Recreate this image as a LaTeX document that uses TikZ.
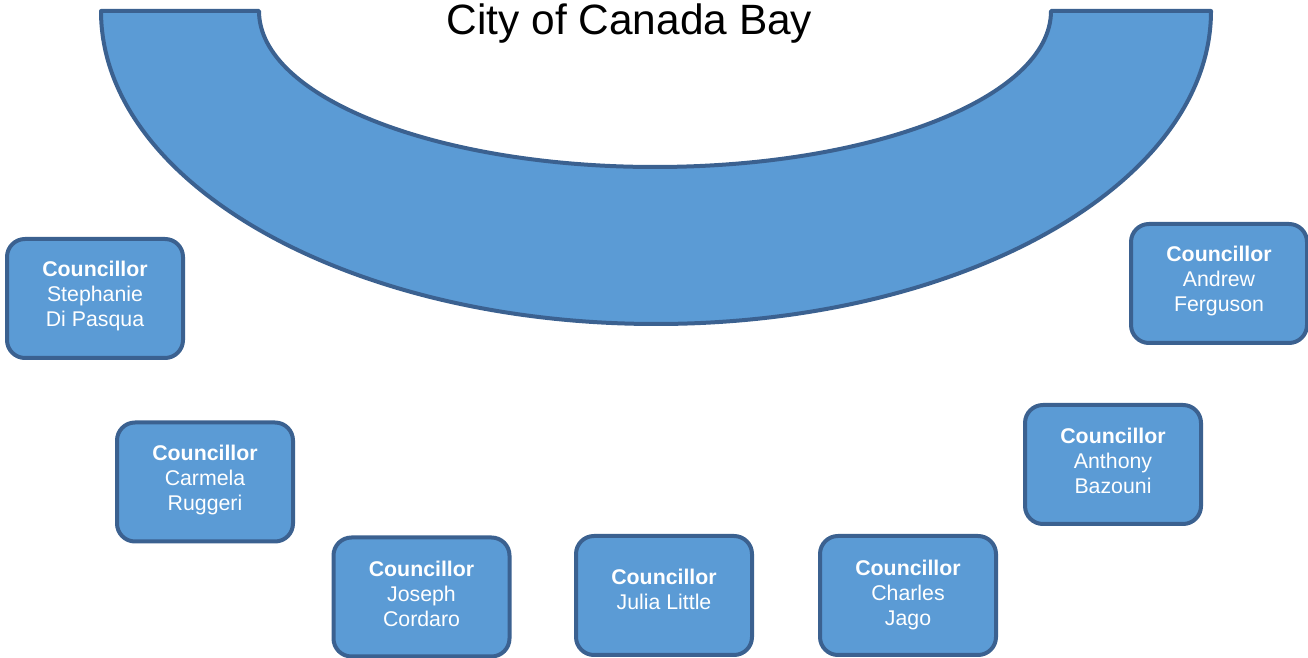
\documentclass[tikz,border=0pt]{standalone}
\usepackage{fontspec}
\setmainfont{Liberation Sans}
\definecolor{fillblue}{HTML}{5B9BD5}
\definecolor{edgeblue}{HTML}{3B6190}
\tikzset{
  seat/.style={draw=edgeblue, fill=fillblue, line width=4pt, rounded corners=18pt,
    minimum width=176pt, minimum height=119pt, inner sep=0pt, align=center,
    text=white, font=\fontsize{21.3}{25}\selectfont},
  bench/.style={draw=edgeblue, fill=fillblue, line width=4pt, line join=round},
}
\newcommand{\cllr}[2][2pt]{\raisebox{#1}[\height][\depth]{\begin{tabular}{@{}c@{}}\textbf{Councillor}\\#2\end{tabular}}}
\begin{document}
\begin{tikzpicture}[x=1pt,y=1pt]
\useasboundingbox (0,0) rectangle (1308,658);
\draw[bench] (101,647) -- (259,647)
  arc[start angle=180, end angle=360, x radius=396pt, y radius=156pt]
  -- (1211,647)
  arc[start angle=0, end angle=-180, x radius=555pt, y radius=313pt]
  -- cycle;
\node[anchor=base, font=\fontsize{42.4}{50}\selectfont] (title) at (629.5,623) {City of Canada Bay};
\node[seat] (s1) at (95,359.5) {\cllr{Stephanie\\Di Pasqua}};
\node[seat] (s2) at (205,176) {\cllr[1pt]{Carmela\\Ruggeri}};
\node[seat] (s3) at (421.5,61) {\cllr[0pt]{Joseph\\Cordaro}};
\node[seat] (s4) at (664,62.5) {\cllr[3pt]{Julia Little}};
\node[seat] (s5) at (908,62.5) {\cllr[0pt]{Charles\\Jago}};
\node[seat] (s6) at (1113,193.5) {\cllr[1pt]{Anthony\\Bazouni}};
\node[seat] (s7) at (1219,374.5) {\cllr[2pt]{Andrew\\Ferguson}};
\end{tikzpicture}
\end{document}
